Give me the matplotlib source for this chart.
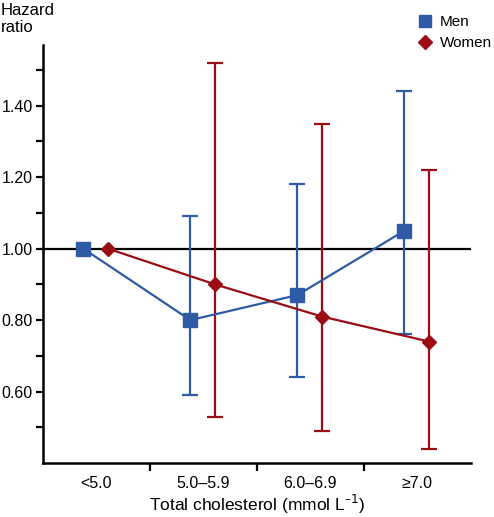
import numpy as np
import matplotlib.pyplot as plt
from matplotlib.lines import Line2D
from matplotlib.ticker import FixedLocator, NullFormatter

plt.rcParams['font.family'] = ['Liberation Sans', 'DejaVu Sans']

categories = ['<5.0', '5.0\u20135.9', '6.0\u20136.9', '\u22657.0']

men_hr = [1.00, 0.80, 0.87, 1.05]
men_lo = [1.00, 0.59, 0.64, 0.76]
men_hi = [1.00, 1.09, 1.18, 1.44]

women_hr = [1.00, 0.90, 0.81, 0.74]
women_lo = [1.00, 0.53, 0.49, 0.44]
women_hi = [1.00, 1.52, 1.35, 1.22]

men_col = '#2f5aa6'
women_col = '#9a0d14'

fig = plt.figure(figsize=(4.94, 5.17), dpi=100)
ax = fig.add_axes([0.0864, 0.1044, 0.8664, 0.8086])

pos = np.arange(len(categories)) + 0.5


def draw(x, hr, lo, hi, col, marker, ms):
    hr = np.array(hr)
    err = [hr - np.array(lo), np.array(hi) - hr]
    ax.errorbar(x[1:], hr[1:], yerr=[err[0][1:], err[1][1:]], fmt='none',
                ecolor=col, elinewidth=1.6, capsize=6, capthick=1.6, zorder=2)
    ax.plot(x, hr, color=col, lw=1.6, marker=marker, ms=ms, mfc=col,
            mec=col, zorder=3)


ax.axhline(1.0, color='black', lw=1.6, zorder=1)
draw(pos - 0.12, men_hr, men_lo, men_hi, men_col, 's', 10)
draw(pos + 0.11, women_hr, women_lo, women_hi, women_col, 'D', 7)

ax.set_xlim(0, 4)
ax.set_ylim(0.40, 1.57)

ax.xaxis.set_major_locator(FixedLocator([1, 2, 3]))
ax.xaxis.set_major_formatter(NullFormatter())
ax.xaxis.set_minor_locator(FixedLocator(pos))
ax.set_xticklabels(categories, minor=True)
ax.tick_params(axis='x', which='minor', length=0, pad=9, labelsize=11.5)
ax.tick_params(axis='x', which='major', length=6, width=1.6)

ax.yaxis.set_major_locator(FixedLocator([0.6, 0.8, 1.0, 1.2, 1.4]))
ax.yaxis.set_minor_locator(FixedLocator([0.5, 0.7, 0.9, 1.1, 1.3, 1.5]))
ax.yaxis.set_major_formatter(lambda v, p: '%.2f' % v)
ax.tick_params(axis='y', which='both', length=5, width=1.6, labelsize=11.5, pad=2)

for s in ['top', 'right']:
    ax.spines[s].set_visible(False)
for s in ['left', 'bottom']:
    ax.spines[s].set_linewidth(1.8)

ax.set_xlabel('Total cholesterol (mmol L$^{\u20131}$)', fontsize=12.5, labelpad=2)
fig.text(0.002, 0.995, 'Hazard\nratio', fontsize=12, va='top', ha='left',
         linespacing=1.2)

handles = [Line2D([], [], ls='none', marker='s', ms=9, color=men_col),
           Line2D([], [], ls='none', marker='D', ms=7, color=women_col)]
ax.legend(handles, ['Men', 'Women'], loc='upper left', bbox_to_anchor=(0.835, 0.982),
          bbox_transform=fig.transFigure, frameon=False, fontsize=11,
          handlelength=0.8, handletextpad=0.6, labelspacing=0.45, borderaxespad=0)

fig.savefig('out.png', dpi=100)
